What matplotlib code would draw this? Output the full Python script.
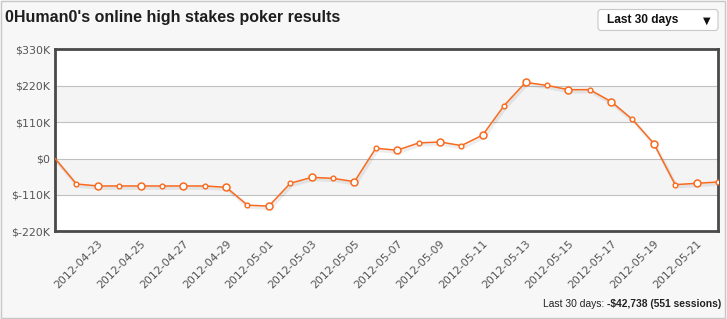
import matplotlib
matplotlib.use("Agg")
import matplotlib.pyplot as plt
import matplotlib.patheffects as pe
from matplotlib.patches import FancyBboxPatch, Rectangle
import numpy as np
import pandas as pd

# daily cumulative results, 2012-04-21 .. 2012-05-22
dates = pd.date_range("2012-04-21", "2012-05-22", freq="D").strftime("%Y-%m-%d").tolist()
results = [0, -77, -83, -83, -83, -83, -83, -83, -87, -141, -144, -75, -57, -60, -70,
           31, 25, 47, 50, 39, 71, 160, 230, 221, 208, 208, 172, 118, 45, -79, -75, -71]
results = [v * 1000 for v in results]
yticks = [-220000, -110000, 0, 110000, 220000, 330000]

title = "0Human0's online high stakes poker results"
period = "Last 30 days"
total = "-$42,738 (551 sessions)"

orange = "#f96a1e"

fig = plt.figure(figsize=(7.27, 3.19), dpi=100)
fig.patch.set_facecolor("#f7f7f7")

# overlay in pixel coordinates for the frame, title, dropdown, footer
ov = fig.add_axes([0, 0, 1, 1], zorder=0)
ov.set_xlim(0, 727)
ov.set_ylim(319, 0)
ov.axis("off")
ov.patch.set_alpha(0)
ov.add_patch(Rectangle((0.5, 0.5), 724, 317, fill=False, ec="#c8c8c8", lw=1))
ov.text(5, 22, title, fontsize=11.5, weight="bold", family="Liberation Sans",
        color="#1e1e1e", va="baseline")
ov.add_patch(FancyBboxPatch((598, 9.5), 120, 21, boxstyle="round,pad=0,rounding_size=3",
                            fc="white", ec="#c8c8c8", lw=0.8))
ov.text(607, 20.5, period, fontsize=8.6, weight="bold", family="Liberation Sans",
        color="#111111", va="center")
ov.text(707, 20.5, "\u25bc", fontsize=7, family=["DejaVu Sans"], color="#111111",
        va="center", ha="center")
bold = ov.text(721, 309, total, fontsize=7.4, weight="bold", family="Liberation Sans",
               color="#222222", ha="right", va="bottom")
ov.annotate("Last 30 days: ", xy=(0, 0), xycoords=bold, fontsize=7.4,
            family="Liberation Sans", color="#222222", ha="right", va="bottom")

ax = fig.add_axes([55 / 727, 1 - 231.3 / 319, 663 / 727, 182 / 319], zorder=1)
x = np.arange(len(dates))
ax.set_xlim(0, len(dates) - 1)
ax.set_ylim(yticks[0], yticks[-1])
ax.set_facecolor("white")
for lo, hi in [(yticks[1], yticks[2]), (yticks[3], yticks[4])]:
    ax.axhspan(lo, hi, color="#f4f4f4", zorder=0.2, lw=0)
ax.set_axisbelow(True)
ax.yaxis.grid(True, color="#c0c0c0", lw=0.8)

ax.plot(x, results, color=orange, lw=1.1, zorder=3,
        path_effects=[pe.SimpleLineShadow(offset=(1, -1.5), shadow_color="k", alpha=0.07,
                                          linewidth=2.5), pe.Normal()])
ax.plot(x[2::2], results[2::2], ls="none", marker="o", ms=5, mfc="white", mec=orange,
        mew=1.1, zorder=4)
ax.plot(x[1::2], results[1::2], ls="none", marker="o", ms=3.4, mfc="white", mec=orange,
        mew=1.0, zorder=4)

ax.set_yticks(yticks)
ax.set_yticklabels(["$0" if v == 0 else f"${v // 1000}K" for v in yticks])
ax.set_xticks(x[2::2])
ax.set_xticklabels(dates[2::2], rotation=45, ha="right", va="top", rotation_mode="anchor")
ax.tick_params(axis="both", length=0, labelsize=7.9, labelcolor="#555555")
ax.tick_params(axis="y", pad=3.5)
ax.tick_params(axis="x", pad=5)
for s in ax.spines.values():
    s.set_color("#4a4a4a")
    s.set_linewidth(2)

fig.savefig("out.png", dpi=100, facecolor=fig.get_facecolor())
